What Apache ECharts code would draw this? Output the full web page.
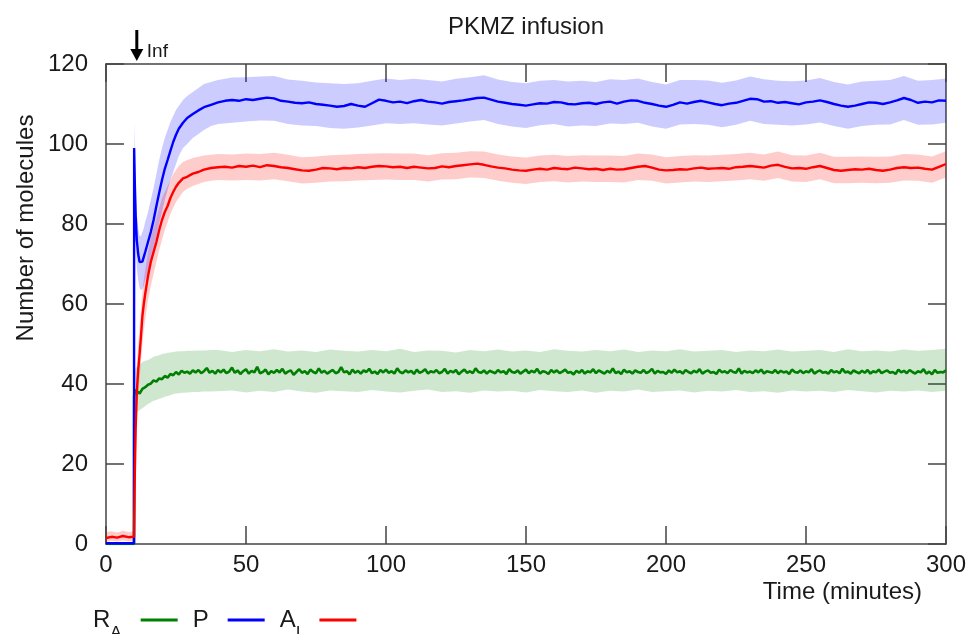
<!DOCTYPE html>
<html>
<head>
<meta charset="utf-8">
<script src="https://cdn.jsdelivr.net/npm/echarts@6/dist/echarts.min.js"></script>
<style>html,body{margin:0;padding:0;background:#fff;}#c{width:969px;height:634px;}</style>
</head>
<body>
<div id="c"></div>
<script>
// ---------- DATA ----------
const chartTitle = "PKMZ infusion";
const xName = "Time (minutes)";
const yName = "Number of molecules";
const xTicks = [0, 50, 100, 150, 200, 250, 300];
const yTicks = [0, 20, 40, 60, 80, 100, 120];
const infusionTime = 11;
const infusionLabel = "Inf";

// Mean-line sample times (minutes): pre-infusion + transient
const tTransient = [0,2,4,6,8,10,10.05,10.3,10.6,11,11.5,12,12.5,13,13.5,14,15,16,17,18,19,20,21,22,23,24,25,26,27.5,29,31,33,35,37.5,40];
// steady part sampled every 2.5 min from 42.5 to 300
const tSteady = [42.5,45,47.5,50,52.5,55,57.5,60,62.5,65,67.5,70,72.5,75,77.5,80,82.5,85,87.5,90,92.5,95,97.5,100,102.5,105,107.5,110,112.5,115,117.5,120,122.5,125,127.5,130,132.5,135,137.5,140,142.5,145,147.5,150,152.5,155,157.5,160,162.5,165,167.5,170,172.5,175,177.5,180,182.5,185,187.5,190,192.5,195,197.5,200,202.5,205,207.5,210,212.5,215,217.5,220,222.5,225,227.5,230,232.5,235,237.5,240,242.5,245,247.5,250,252.5,255,257.5,260,262.5,265,267.5,270,272.5,275,277.5,280,282.5,285,287.5,290,292.5,295,297.5,300];

// P (blue)
const pTransient = [0.2,0.2,0.2,0.2,0.2,0.2,99,90,82,76,72.5,70.5,70,70.6,71.8,73,75.5,78,81,84.5,87.8,91,93.8,96,98.3,100.5,102.3,103.8,105.3,106.5,107.5,108.4,109.2,109.8,110.4];
const pSteady = [110.8,111.0,110.8,111.2,111.0,111.3,111.6,111.4,110.8,110.6,
 110.3,110.2,110.4,110.0,109.8,109.6,109.3,109.5,110.0,109.6,
 109.3,110.2,111.1,110.8,110.4,110.6,110.2,110.7,111.0,110.6,
 110.4,110.1,110.5,110.7,110.9,111.2,111.5,111.6,111.1,110.6,
 110.3,110.0,109.8,109.6,109.9,110.2,110.1,110.5,110.4,110.0,
 109.9,110.2,110.3,110.0,110.4,110.6,110.1,110.6,110.9,110.8,
 110.3,110.0,109.6,109.3,109.8,110.4,110.1,110.5,110.8,110.4,
 110.0,109.7,110.1,110.3,110.8,111.3,111.2,110.6,110.7,110.3,
 110.5,110.2,109.9,110.4,110.6,110.9,110.5,110.0,109.6,109.3,
 109.6,110.0,110.4,110.3,110.0,110.4,110.9,111.5,111.0,110.3,
 110.6,110.4,110.9,110.8];

// A_I (red)
const aTransient = [1.5,1.8,1.6,2.0,1.7,1.8,5,18,29,38,43.5,47.5,52,57,60,62.5,67,70.5,73,75.5,78.5,81,83,84.5,86.5,88,89.3,90.3,91.4,91.8,92.6,93,93.6,94,94.2];
const aSteady = [94.3,94.1,94.5,94.3,94.6,94.2,94.7,94.5,94.2,94.0,
 93.7,93.4,93.3,93.6,94.0,93.9,93.7,94.0,93.9,94.2,
 94.0,94.3,94.5,94.4,94.2,94.3,94.0,94.3,94.1,93.9,
 94.0,94.4,94.2,94.5,94.7,94.9,95.1,94.8,94.4,94.1,
 93.9,93.6,93.4,93.3,93.6,93.8,93.6,94.0,93.8,93.7,
 94.1,93.9,93.7,93.8,93.5,93.8,93.6,93.7,94.0,94.3,
 94.5,94.1,93.6,93.4,93.5,93.7,93.6,93.9,94.1,93.8,
 93.9,94.0,93.8,94.2,94.3,94.5,94.3,94.1,94.6,94.8,
 94.3,93.9,94.0,93.8,94.2,94.5,94.0,93.5,93.3,93.5,
 93.7,93.6,93.8,93.5,93.3,93.6,94.0,94.2,94.0,94.1,
 93.8,93.6,94.3,95.0];

// R_A (green): early samples, then one value per minute from 11 to 300
const tGreenEarly = [0,2,4,6,8,10,10.05,10.5];
const rEarly = [0,0,0,0,0,0,37,38.5];
const rFirstMinute = 11;
const rPerMinute = [
 38.0,37.6,38.8,39.2,39.8,40.1,40.9,40.6,41.4,41.2,
 42.0,41.6,42.5,42.2,43.0,42.4,43.3,42.8,43.1,42.6,
 43.4,42.9,43.5,42.7,43.2,44.0,42.8,43.3,42.6,43.5,
 42.9,43.6,42.7,43.1,44.1,42.8,43.4,42.5,43.2,43.7,
 42.6,43.3,42.9,44.3,42.7,43.0,43.6,42.4,43.2,42.8,
 43.5,42.9,43.8,42.6,43.1,43.4,42.3,43.0,43.7,42.8,
 43.2,42.5,43.6,43.0,42.7,43.9,42.8,43.3,42.6,43.1,
 43.5,42.7,43.0,44.2,42.9,43.2,42.4,43.6,42.8,43.3,
 42.6,43.4,43.0,43.8,42.7,43.1,42.5,43.5,42.9,43.6,
 42.8,43.2,42.6,43.9,43.0,42.7,43.4,42.9,43.3,42.5,
 43.6,42.8,43.1,43.7,42.6,43.2,42.9,43.5,42.7,43.0,
 43.8,42.6,43.3,42.9,43.5,42.4,43.1,43.6,42.8,43.2,
 42.7,43.9,43.0,42.8,43.4,42.6,43.3,43.0,42.7,43.5,
 42.9,43.2,42.5,43.7,43.0,42.8,43.4,42.6,43.1,43.6,
 42.7,43.3,42.9,43.8,42.6,43.2,43.0,42.5,43.5,42.9,
 43.4,42.7,43.1,43.6,42.8,43.0,42.4,43.3,42.8,43.5,
 42.6,43.2,42.9,43.7,42.7,43.4,43.0,42.6,43.3,42.8,
 43.9,42.7,43.1,42.5,43.6,42.9,43.2,42.6,43.4,43.0,
 42.8,43.5,42.7,43.1,43.8,42.6,43.3,42.9,43.0,42.5,
 43.4,42.8,43.6,42.9,43.2,42.6,43.5,43.0,42.7,43.3,
 42.9,43.7,42.6,43.1,43.4,42.8,43.0,42.5,43.6,42.9,
 43.2,42.7,43.5,43.0,42.8,43.9,42.6,43.3,42.9,43.1,
 42.7,43.4,42.9,43.6,42.6,43.2,43.0,42.8,43.5,42.7,
 43.3,42.9,43.1,42.5,43.6,43.0,42.8,43.4,42.7,43.2,
 42.9,43.7,42.6,43.1,43.4,42.8,43.0,42.6,43.5,42.9,
 43.2,42.7,43.8,42.9,43.1,42.6,43.4,43.0,42.7,43.3,
 42.8,43.5,42.6,43.2,42.9,43.6,42.7,43.1,43.4,42.8,
 43.0,42.5,43.6,42.9,43.3,42.7,43.5,43.0,42.6,43.2,
 42.9,43.7,42.6,43.1,42.4,43.5,42.8,43.0,42.9,43.4];

// Spread bands: sample times = tTransient, then every 5 min from 45 to 300
const tBandSteady = [45,50,55,60,65,70,75,80,85,90,95,100,105,110,115,120,125,130,135,140,145,150,155,160,165,170,175,180,185,190,195,200,205,210,215,220,225,230,235,240,245,250,255,260,265,270,275,280,285,290,295,300];
const pLo = [0,0,0,0,0,0,92,82,75,69,66,64,63.5,63.7,64.5,66,68,70.5,73.5,77,80,83,86,88.5,91,93,95,97,99,100,101.5,102.5,103.5,104.5,105,
 105.3,105.6,105.9,105.8,105.0,104.6,104.5,104.0,103.8,104.1,104.6,105.2,105.0,105.2,104.9,104.6,105.1,105.6,106.0,105.0,104.4,104.0,104.7,105.0,104.4,104.6,104.5,105.1,105.0,105.3,104.4,103.8,104.9,105.0,104.8,104.2,104.8,105.8,105.0,104.8,104.6,104.9,105.4,104.5,103.8,104.5,104.8,104.9,106.0,104.8,104.9,105.3];
const pHi = [0.5,0.5,0.5,0.5,0.5,0.5,106,97,89,83,79,77,77,78,79,80.5,83,86,89,92.5,96,99,101.5,103.5,105.5,107,108.5,109.5,111,112,113,114,115,115.5,116,
 116.6,116.7,116.9,117.0,116.1,115.8,115.4,115.2,115.0,115.2,115.8,116.4,116.0,116.3,116.0,115.6,116.3,116.7,117.2,116.1,115.5,115.2,115.8,116.0,115.6,115.8,115.5,116.2,116.0,116.4,115.5,114.9,116.0,116.0,115.9,115.3,115.9,116.9,116.2,115.8,115.7,115.9,116.5,115.5,114.9,115.6,115.8,116.0,117.0,115.8,116.0,116.4];
const aLo = [0.5,0.8,0.6,0.9,0.7,0.6,1,14,24,31,37,41,45.5,50,53.5,56,61,64.5,67.5,70.5,73.5,76,78.5,80.5,82.5,84,85.5,86.5,88,88.8,89.5,90,90.5,90.8,91,
 90.9,91.0,90.9,91.2,90.7,90.1,90.3,90.6,90.7,90.9,91.0,91.1,91.0,91.0,90.6,91.1,91.2,91.6,91.5,90.8,90.3,90.0,90.5,90.7,90.4,90.6,90.5,90.5,90.4,91.0,90.8,90.1,90.4,90.6,90.5,90.7,90.9,91.2,90.8,91.5,90.6,90.5,91.2,90.2,90.2,90.3,90.2,90.3,90.9,90.8,90.3,91.6];
const aHi = [3,3.2,2.9,3.3,3,3.1,9,26,36,44,50,54,58.5,63,66,68.5,73,76.5,79,81.5,84,86.5,88,89.5,91,92.5,93.5,94.5,95.5,96,96.5,96.8,97.1,97.3,97.5,
 97.4,97.6,97.5,97.8,97.3,96.7,96.9,97.2,97.3,97.5,97.6,97.7,97.6,97.6,97.2,97.7,97.8,98.2,98.1,97.4,96.9,96.6,97.1,97.3,97.0,97.2,97.1,97.1,97.0,97.6,97.4,96.7,97.0,97.2,97.1,97.3,97.5,97.8,97.4,98.1,97.2,97.1,97.8,96.8,96.8,96.9,96.8,96.9,97.5,97.4,96.9,98.2];
const rLo = [0,0,0,0,0,0,32,32.5,33,33,33.2,33.5,33.7,34,34.2,34.5,35,35.4,35.8,36,36.3,36.5,36.8,37,37.2,37.5,37.6,37.7,37.8,37.9,38,38,38.1,38.1,38.2,
 38.4,37.9,38.3,38.0,38.6,38.1,37.8,38.4,38.2,38.0,38.5,38.1,37.9,38.3,38.6,38.0,38.2,37.8,38.4,38.1,38.3,37.9,38.5,38.2,38.0,38.4,37.8,38.3,38.1,38.6,38.0,38.2,38.4,37.9,38.3,38.1,38.5,38.0,38.2,37.8,38.4,38.1,38.3,38.0,38.5,38.2,37.9,38.3,38.1,38.4,38.0,38.3];
const rHi = [0.3,0.3,0.3,0.3,0.3,0.3,43,43.5,44,44.3,44.6,45,45.2,45.5,45.7,45.8,46,46.4,46.8,47,47.2,47.5,47.6,47.8,47.9,48,48.1,48.2,48.2,48.3,48.3,48.4,48.4,48.5,48.5,
 48.0,48.5,48.2,48.7,48.1,48.4,48.0,48.6,48.3,48.1,48.5,48.2,48.8,48.0,48.4,48.3,47.9,48.5,48.2,48.6,48.1,48.4,48.0,48.7,48.3,48.1,48.5,48.2,48.6,48.0,48.4,48.2,48.7,48.1,48.3,48.5,48.0,48.4,48.2,48.6,48.1,48.3,48.5,48.0,48.7,48.2,48.4,48.1,48.6,48.3,48.5,48.8];

// ---------- BUILD ----------
const tLine = tTransient.concat(tSteady);
const tBand = tTransient.concat(tBandSteady);
const pMean = pTransient.concat(pSteady);
const aMean = aTransient.concat(aSteady);
const tGreen = tGreenEarly.concat(rPerMinute.map((_, i) => rFirstMinute + i));
const rMean = rEarly.concat(rPerMinute);

const pairs = (ts, vs) => ts.map((t, i) => [t, vs[i]]);

function band(name, lo, hi, fill) {
  return {
    name: name, type: 'custom', silent: true, z: 1,
    data: tBand.map((t, i) => [t, lo[i], hi[i]]),
    encode: { x: 0, y: [1, 2] },
    renderItem: function (params, api) {
      if (params.dataIndex !== 0) return null;
      const pts = [];
      for (let i = 0; i < tBand.length; i++) pts.push(api.coord([tBand[i], hi[i]]));
      for (let i = tBand.length - 1; i >= 0; i--) pts.push(api.coord([tBand[i], lo[i]]));
      return { type: 'polygon', shape: { points: pts }, style: { fill: fill } };
    }
  };
}

const FONT = '"Liberation Sans", Arial, sans-serif';
const TXT = '#1a1a1a';
const AXC = '#444';

const chart = echarts.init(document.getElementById('c'), null, { renderer: 'canvas' });

const xBase = {
  type: 'value', min: xTicks[0], max: xTicks[xTicks.length - 1], interval: xTicks[1] - xTicks[0],
  axisLine: { show: true, onZero: false, lineStyle: { color: AXC, width: 1.5 } },
  axisTick: { show: true, inside: true, length: 18, lineStyle: { color: AXC, width: 1.5 } },
  splitLine: { show: false }
};
const yBase = {
  type: 'value', min: yTicks[0], max: yTicks[yTicks.length - 1], interval: yTicks[1] - yTicks[0],
  axisLine: { show: true, onZero: false, lineStyle: { color: AXC, width: 1.5 } },
  axisTick: { show: true, inside: true, length: 18, lineStyle: { color: AXC, width: 1.5 } },
  splitLine: { show: false }
};

const legendNames = { RA: '{m|R}{s|A}{g|}', P: '{m|P}{g|}', AI: '{m|A}{s|I}{g|}' };

chart.setOption({
  animation: false,
  backgroundColor: '#fff',
  textStyle: { fontFamily: FONT },
  grid: { left: 106, right: 23, top: 64, bottom: 90, containLabel: false },
  xAxis: [
    Object.assign({}, xBase, {
      position: 'bottom',
      axisLabel: { show: true, fontSize: 24, color: TXT, margin: 9, fontFamily: FONT },
      name: xName, nameLocation: 'end', nameGap: -24,
      nameTextStyle: { fontSize: 24, color: TXT, align: 'right', verticalAlign: 'top', padding: [36, 0, 0, 0], fontFamily: FONT }
    }),
    Object.assign({}, xBase, { position: 'top', axisLabel: { show: false } })
  ],
  yAxis: [
    Object.assign({}, yBase, { position: 'left', axisLabel: { show: true, fontSize: 24, color: TXT, margin: 18, fontFamily: FONT } }),
    Object.assign({}, yBase, { position: 'right', axisLabel: { show: false } })
  ],
  legend: {
    left: 88, top: 603, align: 'right', itemWidth: 37, itemHeight: 3, itemGap: 15,
    data: ['RA', 'P', 'AI'],
    icon: 'rect',
    formatter: n => legendNames[n],
    textStyle: {
      color: TXT, fontFamily: FONT,
      rich: {
        m: { fontSize: 24, color: TXT, fontFamily: FONT },
        s: { fontSize: 17, color: TXT, fontFamily: FONT, padding: [27, 0, 0, 0] },
        g: { width: 14 }
      }
    }
  },
  series: [
    band('bandR', rLo, rHi, 'rgba(0,128,0,0.19)'),
    band('bandA', aLo, aHi, 'rgba(255,0,0,0.2)'),
    band('bandP', pLo, pHi, 'rgba(0,0,255,0.2)'),
    { name: 'RA', type: 'line', z: 3, data: pairs(tGreen, rMean), showSymbol: false, symbol: 'none',
      itemStyle: { color: '#008000' }, lineStyle: { color: '#008000', width: 2.6 } },
    { name: 'P', type: 'line', z: 4, data: pairs(tLine, pMean), showSymbol: false, symbol: 'none',
      itemStyle: { color: '#0000ff' }, lineStyle: { color: '#0000ff', width: 2.4 } },
    { name: 'AI', type: 'line', z: 5, data: pairs(tLine, aMean), showSymbol: false, symbol: 'none',
      itemStyle: { color: '#ff0000' }, lineStyle: { color: '#ff0000', width: 2.4 } }
  ]
});

// annotations placed through the axes
const gx = chart.convertToPixel({ xAxisIndex: 0 }, infusionTime);
const gTop = chart.convertToPixel({ yAxisIndex: 0 }, yTicks[yTicks.length - 1]);
const gMidX = (chart.convertToPixel({ xAxisIndex: 0 }, xTicks[0]) + chart.convertToPixel({ xAxisIndex: 0 }, xTicks[xTicks.length - 1])) / 2;
chart.setOption({
  graphic: [
    { type: 'text', x: gMidX, y: 27, style: { text: chartTitle, font: '24px ' + FONT, fill: TXT, textAlign: 'center', textVerticalAlign: 'middle' } },
    { type: 'text', x: 26, y: 228, rotation: Math.PI / 2, style: { text: yName, font: '24px ' + FONT, fill: TXT, textAlign: 'center', textVerticalAlign: 'middle' } },
    { type: 'line', shape: { x1: gx, y1: 30, x2: gx, y2: gTop - 12 }, style: { stroke: '#000', lineWidth: 3 } },
    { type: 'polygon', shape: { points: [[gx - 6.5, gTop - 15], [gx + 6.5, gTop - 15], [gx, gTop - 3]] }, style: { fill: '#000' } },
    { type: 'text', x: gx + 10, y: 52, style: { text: infusionLabel, font: '19px ' + FONT, fill: TXT, textAlign: 'left', textVerticalAlign: 'middle' } }
  ]
});
</script>
</body>
</html>
